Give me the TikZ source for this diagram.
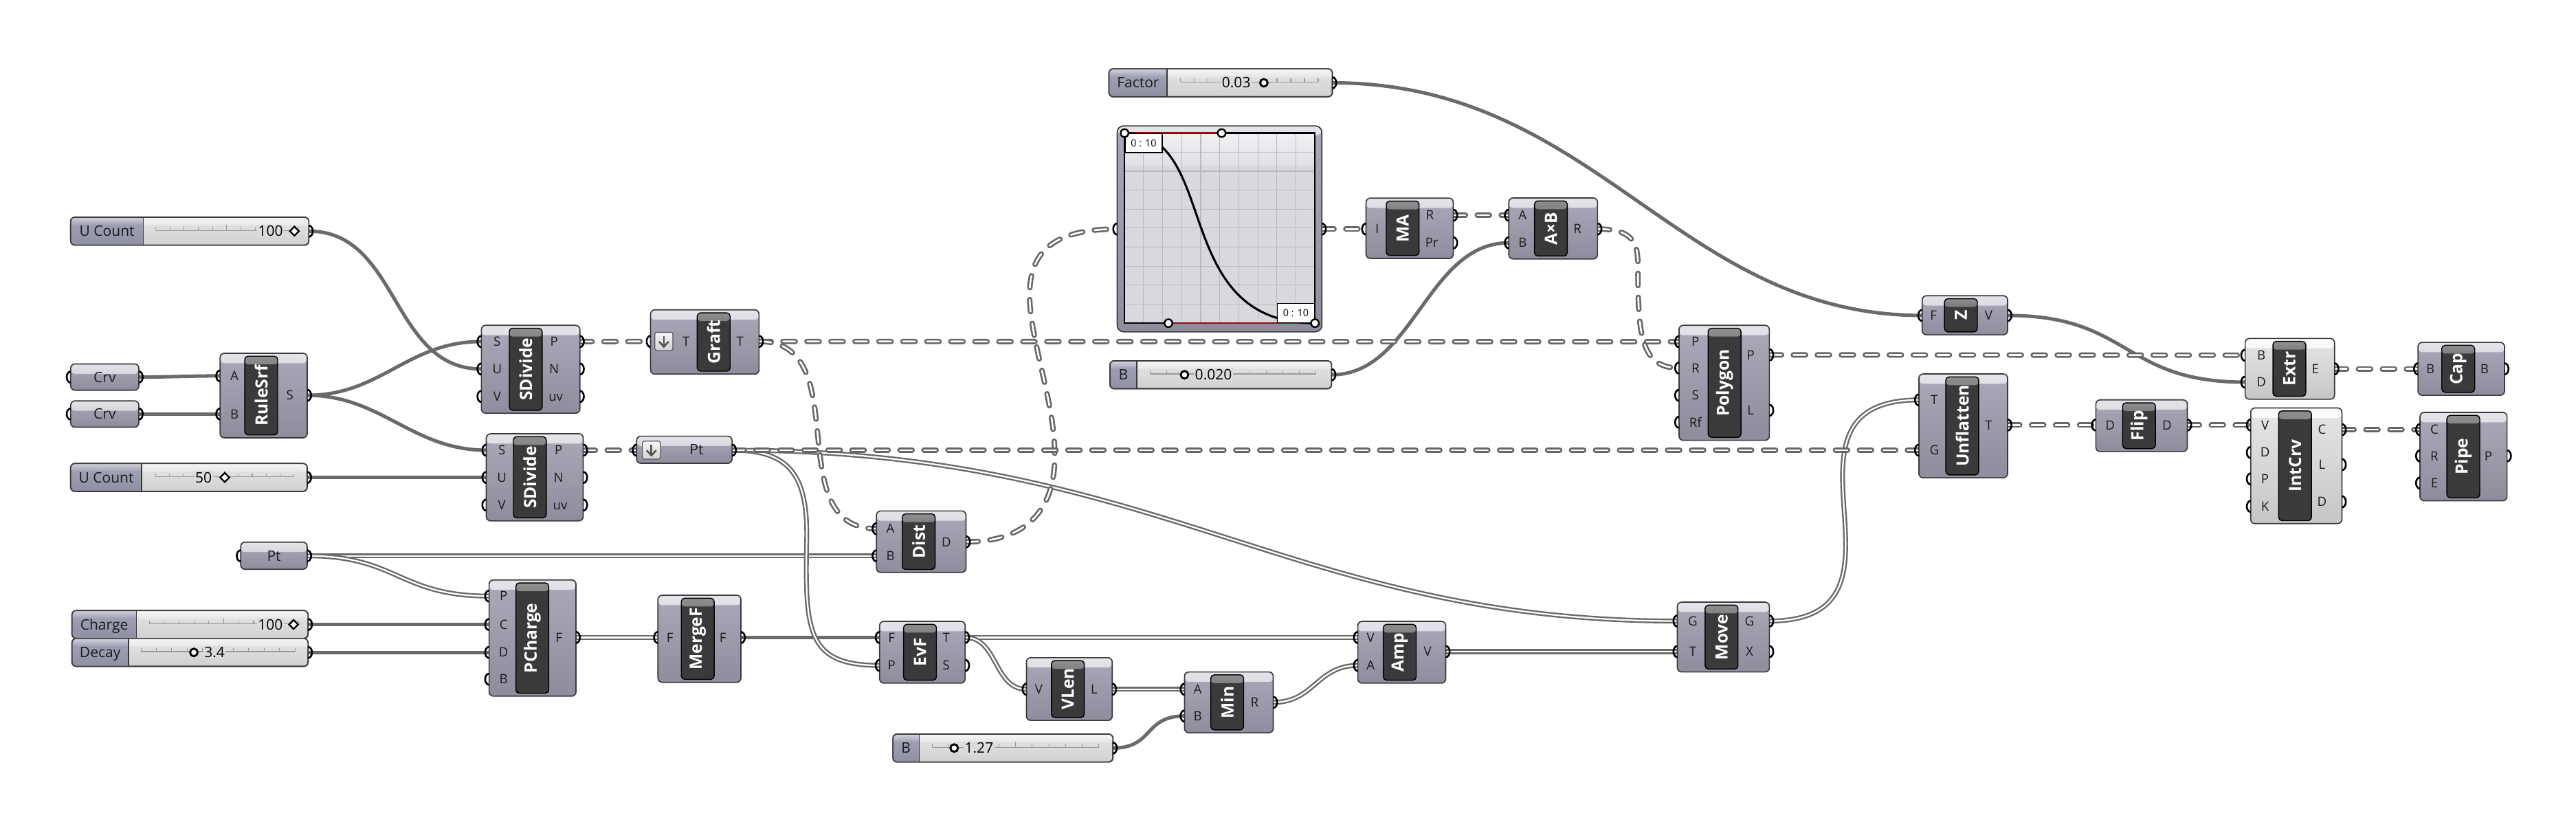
\documentclass[tikz,border=0pt]{standalone}
\usepackage{fontspec}
\setmainfont{Open Sans}
\pgfdeclarelayer{back}
\pgfdeclarelayer{wires}
\pgfsetlayers{back,wires,main}
\definecolor{wcol}{HTML}{6A6A6A}
\definecolor{tcol}{HTML}{666666}
\definecolor{bord}{HTML}{3A3A3A}
\definecolor{bodyA}{HTML}{A9A9BA}
\definecolor{bodyB}{HTML}{8D8D9D}
\definecolor{bandA}{HTML}{E4E4EA}
\definecolor{bandB}{HTML}{BDBDC8}
\definecolor{offA}{HTML}{E6E6E6}
\definecolor{offB}{HTML}{C6C6C6}
\definecolor{offBandA}{HTML}{FBFBFB}
\definecolor{offBandB}{HTML}{EBEBEB}
\definecolor{lbA}{HTML}{8E8E8E}
\definecolor{lbB}{HTML}{3A3A3A}
\definecolor{ptxt}{HTML}{1A1A1A}
\definecolor{sldA}{HTML}{9E9EB3}
\definecolor{sldB}{HTML}{9090A3}
\definecolor{sldTa}{HTML}{D2D2DC}
\definecolor{sldTb}{HTML}{A8A8BC}
\definecolor{valA}{HTML}{E6E6E6}
\definecolor{valB}{HTML}{D0D0D0}
\definecolor{valTa}{HTML}{F6F6F6}
\definecolor{valM}{HTML}{DBDBDB}
\definecolor{tickc}{HTML}{9A9A9A}
\definecolor{icb}{HTML}{555555}
\definecolor{gmP}{HTML}{D8D8DE}
\definecolor{gmT}{HTML}{F1F1F3}
\definecolor{gmgrid}{HTML}{B9B9C1}
\definecolor{dred}{HTML}{8B1010}
\tikzset{
 wire/.style={draw=wcol, line width=2.1pt},
 lwire/.style={draw=wcol, line width=1pt, double=white, double distance=0.95pt},
 twire/.style={draw=tcol, line width=3.3pt, line cap=round, dash pattern=on 7.4pt off 7.2pt,
   postaction={draw=white, line width=1.1pt, line cap=round, dash pattern=on 7.4pt off 7.2pt}},
 comp/.style={draw=bord, line width=0.7pt, rounded corners=2.6pt, inner sep=0pt, outer sep=0pt,
   top color=bodyA, bottom color=bodyB,
   path picture={\shade[top color=bandA, bottom color=bandB] (path picture bounding box.north west) rectangle ([yshift=-6pt]path picture bounding box.north east);}},
 compoff/.style={top color=offA, bottom color=offB,
   path picture={\shade[top color=offBandA, bottom color=offBandB] (path picture bounding box.north west) rectangle ([yshift=-6pt]path picture bounding box.north east);}},
 lblbox/.style={draw=black, line width=0.6pt, rounded corners=2pt, inner sep=0pt, minimum width=20pt, fill=lbB,
   path picture={\shade[top color=lbA, bottom color=lbB] (path picture bounding box.north west) rectangle ([yshift=-5pt]path picture bounding box.north east);}},
 lbltxt/.style={rotate=90, text=white, font=\fontsize{10.3}{11}\selectfont\bfseries, inner sep=0pt},
 plbl/.style={text=ptxt, font=\fontsize{7.8}{8}\selectfont, inner sep=0pt},
 port/.style={draw=black, line width=1.1pt},
 sldbody/.style={draw=bord, line width=0.7pt, rounded corners=2.6pt, inner sep=0pt, top color=valA, bottom color=valB},
 stxt/.style={text=ptxt, font=\fontsize{8.8}{9}\selectfont, inner sep=0pt},
 vtxt/.style={text=black, font=\fontsize{8.8}{9}\selectfont, inner sep=0.6pt, fill=valM},
 tickl/.style={draw=tickc, line width=0.45pt},
 gripc/.style={draw=black, fill=white, circle, line width=1.2pt, minimum size=4.6pt, inner sep=0pt},
 gripd/.style={draw=black, fill=white, rectangle, rotate=45, line width=1pt, minimum size=3.9pt, inner sep=0pt},
 iconbox/.style={draw=icb, line width=0.5pt, rounded corners=1.2pt, minimum size=11pt, inner sep=0pt, top color=white!92!gray, bottom color=gray!35},
 iconarr/.style={draw=icb, line width=1.1pt},
 gmlab/.style={draw=black, fill=white, line width=0.6pt, minimum width=22.6pt, minimum height=11.6pt, inner sep=0pt, font=\fontsize{6}{6}\selectfont},
 gmh/.style={draw=black, fill=white, circle, line width=1pt, minimum size=4.8pt, inner sep=0pt},
}
\newcommand{\gino}[3]{\coordinate (#1) at ({#2},{#3});
  \draw[port] ({#2},{(#3)+3.4}) arc[start angle=90,end angle=270,x radius=2.4,y radius=3.4];}
\newcommand{\gouto}[3]{\coordinate (#1) at ({#2},{#3});
  \draw[port] ({#2},{(#3)+3.4}) arc[start angle=90,end angle=-90,x radius=2.4,y radius=3.4];}
\newcommand{\gin}[5]{\gino{#1}{#2}{#3}\node[plbl,anchor=base] (#1-t) at (#4,{(#3)+2.8}) {#5};}
\newcommand{\gout}[5]{\gouto{#1}{#2}{#3}\node[plbl,anchor=base] (#1-t) at (#4,{(#3)+2.8}) {#5};}
\newcommand{\gcomp}[8][]{%
  \node[comp,#1,minimum width={(#5)-(#3)},minimum height={(#6)-(#4)}] (#2) at ({((#3)+(#5))/2},{((#4)+(#6))/2}) {};
  \node[lblbox,minimum height={(#6)-(#4)-3.6}] (#2-lb) at (#7,{((#4)+(#6))/2}) {};
  \node[lbltxt] (#2-lt) at (#7,{((#4)+(#6))/2}) {#8};}
\newcommand{\gparam}[7]{%
  \node[comp,minimum width={(#4)-(#2)},minimum height={(#5)-(#3)}] (#1) at ({((#2)+(#4))/2},{((#3)+(#5))/2}) {};
  \node[stxt,anchor=base] (#1-l) at (#6,{((#3)+(#5))/2+3.15}) {#7};}
\newcommand{\gslider}[8]{%
  \node[sldbody,minimum width={(#4)-(#2)},minimum height=17pt] (#1) at ({((#2)+(#4))/2},{(#3)+8.5}) {};
  \begin{scope}
    \clip[rounded corners=2.6pt] (#2,#3) rectangle (#4,{(#3)+17});
    \shade[top color=sldTa, bottom color=sldA] (#2,#3) rectangle (#5,{(#3)+5});
    \shade[top color=sldA, bottom color=sldB] (#2,{(#3)+5}) rectangle (#5,{(#3)+17});
    \shade[top color=valTa, bottom color=valA] (#5,#3) rectangle (#4,{(#3)+5});
  \end{scope}
  \draw[draw=bord, line width=0.7pt] (#5,#3) -- (#5,{(#3)+17});
  \draw[draw=bord, line width=0.7pt, rounded corners=2.6pt] (#2,#3) rectangle (#4,{(#3)+17});
  \node[stxt,anchor=base] (#1-l) at ({((#2)+(#5))/2},{(#3)+11.65}) {#6};
  \draw[tickl] (#7,{(#3)+8}) -- (#8,{(#3)+8});
  \foreach \k in {0,...,10}{\draw[tickl] ({(#7)+\k*((#8)-(#7))/10},{(#3)+8}) -- ++(0,-2);}
  \draw[tickl] ({((#7)+(#8))/2},{(#3)+8}) -- ++(0,-3.6);
  \gouto{#1-o}{#4}{(#3)+8.5}}
\newcommand{\dicon}[3]{%
  \node[iconbox] (#1) at ({(#2)+5.5},{(#3)+5.5}) {};
  \draw[iconarr] ({(#2)+5.5},{(#3)+2.3}) -- ({(#2)+5.5},{(#3)+8.7});
  \draw[iconarr] ({(#2)+2.6},{(#3)+5.6}) -- ({(#2)+5.5},{(#3)+8.7}) -- ({(#2)+8.4},{(#3)+5.6});}
\begin{document}
\begin{tikzpicture}[x=1pt,y=-1pt]
\begin{pgfonlayer}{back}
\fill[white] (0,0) rectangle (1568,505.4);
\end{pgfonlayer}
\useasboundingbox (0,0) rectangle (1568,505.4);

% ---------------- sliders ----------------
\gslider{ucA}{43}{132.2}{188}{87.2}{U Count}{94.8}{181.2}
\node[vtxt,anchor=base east] (ucA-v) at (173,143.85) {100};
\node[gripd] (ucA-g) at (179.2,140.7) {};
\gslider{ucB}{43}{282.1}{187}{86.3}{U Count}{94.6}{178.8}
\node[vtxt,anchor=base east] (ucB-v) at (129.7,293.75) {50};
\node[gripd] (ucB-g) at (136.8,290.6) {};
\gslider{charge}{43.8}{371.6}{187.5}{83}{Charge}{90.8}{181.6}
\node[vtxt,anchor=base east] (charge-v) at (172.9,383.25) {100};
\node[gripd] (charge-g) at (178.7,380.1) {};
\gslider{decay}{43.8}{388.6}{187.5}{78.1}{Decay}{85.8}{179.5}
\node[gripc] (decay-g) at (118,397.1) {};
\node[vtxt,anchor=base west] (decay-v) at (123.6,400.25) {3.4};
\gslider{factor}{675}{41.9}{811}{710.5}{Factor}{718.7}{802.4}
\node[vtxt,anchor=base east] (factor-v) at (762,53.55) {0.03};
\node[gripc] (factor-g) at (769.3,50.4) {};
\gslider{bslA}{675.6}{219.6}{810.5}{692}{B}{700}{801}
\node[gripc] (bslA-g) at (721,228.1) {};
\node[vtxt,anchor=base west] (bslA-v) at (726.6,231.25) {0.020};
\gslider{bslB}{543.5}{446.8}{677.4}{559.5}{B}{567.4}{668.9}
\node[gripc] (bslB-g) at (580.8,455.3) {};
\node[vtxt,anchor=base west] (bslB-v) at (586.4,458.45) {1.27};

% ---------------- parameters ----------------
\gparam{crv1}{43}{221.5}{84.5}{237.5}{63.75}{Crv}
\gino{crv1-i}{43}{229.5}\gouto{crv1-o}{84.5}{229.5}
\gparam{crv2}{43}{244}{84.5}{260}{63.75}{Crv}
\gino{crv2-i}{43}{252}\gouto{crv2-o}{84.5}{252}
\gparam{ptL}{146.5}{330}{187}{346.5}{166.75}{Pt}
\gino{ptL-i}{146.5}{338.3}\gouto{ptL-o}{187}{338.3}
\gparam{ptT}{387.5}{265.5}{445.6}{282}{424}{Pt}
\dicon{ptT-ic}{391}{268.5}
\gino{ptT-i}{387.5}{274}\gouto{ptT-o}{445.6}{274}

% ---------------- components ----------------
\gcomp{rule}{134}{215}{187}{266.5}{159}{RuleSrf}
\gin{rule-A}{134}{228.8}{142.7}{A}
\gin{rule-B}{134}{252}{142.7}{B}
\gout{rule-S}{187}{240.6}{176.4}{S}

\gcomp{sdA}{293}{198}{353}{251.5}{320}{SDivide}
\gin{sdA-S}{293}{207.9}{302.6}{S}
\gin{sdA-U}{293}{224.6}{302.6}{U}
\gin{sdA-V}{293}{241.3}{302.6}{V}
\gout{sdA-P}{353}{207.9}{337.3}{P}
\gout{sdA-N}{353}{224.6}{337.3}{N}
\gout{sdA-uv}{353}{241.3}{338.3}{uv}

\gcomp{sdB}{296}{264}{355}{317}{322.5}{SDivide}
\gin{sdB-S}{296}{274}{305.5}{S}
\gin{sdB-U}{296}{290.6}{305.5}{U}
\gin{sdB-V}{296}{307.4}{305.5}{V}
\gout{sdB-P}{355}{274}{340}{P}
\gout{sdB-N}{355}{290.6}{340}{N}
\gout{sdB-uv}{355}{307.4}{341}{uv}

\gcomp{graft}{396}{188.6}{462}{227.7}{434.4}{Graft}
\dicon{graft-ic}{398.6}{202.3}
\gin{graft-Ti}{396}{207.8}{417.6}{T}
\gout{graft-To}{462}{207.8}{450.5}{T}

\gcomp{pch}{297.7}{353}{350.6}{423.7}{324}{PCharge}
\gin{pch-P}{297.7}{362.8}{306.5}{P}
\gin{pch-C}{297.7}{380.1}{306.5}{C}
\gin{pch-D}{297.7}{397.1}{306.5}{D}
\gin{pch-B}{297.7}{413.4}{306.5}{B}
\gout{pch-F}{350.6}{388}{340.2}{F}

\gcomp{merge}{400.5}{362.3}{451}{415.3}{424.7}{MergeF}
\gin{merge-Fi}{400.5}{388}{407.8}{F}
\gout{merge-Fo}{451}{388}{440}{F}

\gcomp{dist}{533.5}{311}{588}{348.4}{559.2}{Dist}
\gin{dist-A}{533.5}{321.8}{542}{A}
\gin{dist-B}{533.5}{338.3}{542}{B}
\gout{dist-D}{588}{329.8}{576}{D}

\gcomp{evf}{535.4}{378.2}{587.5}{415.8}{560}{EvF}
\gin{evf-F}{535.4}{388}{542.7}{F}
\gin{evf-P}{535.4}{405}{542.7}{P}
\gout{evf-T}{587.5}{388}{576}{T}
\gout{evf-S}{587.5}{405}{576}{S}

\gcomp{vlen}{624.8}{400.3}{677}{438.5}{650}{VLen}
\gin{vlen-V}{624.8}{419.5}{632.3}{V}
\gout{vlen-L}{677}{419.5}{666}{L}

\gcomp{min}{721}{409}{775}{446}{747}{Min}
\gin{min-A}{721}{419.5}{729}{A}
\gin{min-B}{721}{435.8}{729}{B}
\gout{min-R}{775}{427.5}{763.6}{R}

\gcomp{amp}{826.5}{378.2}{880}{415.8}{852}{Amp}
\gin{amp-V}{826.5}{388}{834.3}{V}
\gin{amp-A}{826.5}{405}{834.3}{A}
\gout{amp-Vo}{880}{396.6}{869}{V}

\gcomp{move}{1021}{366.5}{1077}{409}{1047.9}{Move}
\gin{move-G}{1021}{378}{1030.4}{G}
\gin{move-T}{1021}{396.6}{1030.4}{T}
\gout{move-Go}{1077}{378}{1064.9}{G}
\gout{move-X}{1077}{396.6}{1064.9}{X}

\gcomp{ma}{831.5}{120.6}{884.6}{157.3}{853.8}{MA}
\gin{ma-I}{831.5}{139.4}{838.3}{I}
\gout{ma-R}{884.6}{131}{870.3}{R}
\gout{ma-Pr}{884.6}{147.8}{871.5}{Pr}

\gcomp{axb}{918.4}{120.5}{972.4}{157.6}{944}{A×B}
\gin{axb-A}{918.4}{131}{926.8}{A}
\gin{axb-B}{918.4}{147.8}{926.8}{B}
\gout{axb-R}{972.4}{139.4}{960.2}{R}

\gcomp{poly}{1022}{198}{1077}{268}{1049.7}{Polygon}
\gin{poly-P}{1022}{208}{1032}{P}
\gin{poly-R}{1022}{224}{1032}{R}
\gin{poly-S}{1022}{240.6}{1032}{S}
\gin{poly-Rf}{1022}{257}{1032}{Rf}
\gout{poly-Po}{1077}{216}{1065.6}{P}
\gout{poly-L}{1077}{249.7}{1065.6}{L}

\gcomp{zc}{1170}{180}{1222}{203.8}{1193.6}{Z}
\gin{zc-F}{1170}{192}{1176.9}{F}
\gout{zc-V}{1222}{192}{1210.5}{V}

\gcomp{unf}{1168}{227.6}{1222}{290.8}{1194.4}{Unflatten}
\gin{unf-T}{1168}{243.4}{1177.4}{T}
\gin{unf-G}{1168}{274}{1177.4}{G}
\gout{unf-To}{1222}{258.7}{1210.5}{T}

\gcomp{flip}{1275.7}{243.4}{1331.4}{274.8}{1302}{Flip}
\gin{flip-D}{1275.7}{258.7}{1284.4}{D}
\gout{flip-Do}{1331.4}{258.7}{1319}{D}

\gcomp[compoff]{extr}{1366.6}{206}{1421}{243}{1393.5}{Extr}
\gin{extr-B}{1366.6}{216.2}{1376.4}{B}
\gin{extr-D}{1366.6}{232.6}{1376.4}{D}
\gout{extr-E}{1421}{224.5}{1409.2}{E}

\gcomp[compoff]{intc}{1370}{248.3}{1425.5}{318.7}{1397}{IntCrv}
\gin{intc-V}{1370}{258.7}{1378.7}{V}
\gin{intc-D}{1370}{275.4}{1378.7}{D}
\gin{intc-P}{1370}{291.5}{1378.7}{P}
\gin{intc-K}{1370}{308.2}{1378.7}{K}
\gout{intc-C}{1425.5}{261.5}{1413.4}{C}
\gout{intc-L}{1425.5}{282.8}{1413.4}{L}
\gout{intc-Do}{1425.5}{305.4}{1413.4}{D}

\gcomp{cap}{1471.8}{208.4}{1524.5}{240.6}{1496.3}{Cap}
\gin{cap-B}{1471.8}{224.5}{1479.4}{B}
\gout{cap-Bo}{1524.5}{224.5}{1512.3}{B}

\gcomp{pipe}{1473}{251}{1526}{304.8}{1499.4}{Pipe}
\gin{pipe-C}{1473}{261.5}{1481.8}{C}
\gin{pipe-R}{1473}{277.5}{1481.8}{R}
\gin{pipe-E}{1473}{294}{1481.8}{E}
\gout{pipe-P}{1526}{277.5}{1514.6}{P}

% ---------------- graph mapper ----------------
\node[comp, rounded corners=4pt, minimum width=124.6pt, minimum height=125.4pt] (gm) at (742.3,139.3) {};
\fill[gmP] (684.5,81) rectangle (800.4,196.7);
\shade[top color=gmT, bottom color=gmP!70!gmT] (684.5,81) rectangle (800.4,101);
\foreach \k in {1,...,9}{
  \draw[gmgrid, line width=0.5pt] ({684.5+\k*11.59},81) -- ++(0,115.7);
  \draw[gmgrid, line width=0.5pt] (684.5,{81+\k*11.57}) -- ++(115.9,0);}
\draw[black, line width=1pt] (684.5,81) rectangle (800.4,196.7);
\draw[dred, line width=1pt] (684.5,81) -- (743.6,81);
\draw[dred, line width=1pt] (711.2,196.7) -- (800.4,196.7);
\draw[black, line width=1.3pt] (684.5,81) .. controls (743.6,81) and (711.2,196.7) .. (800.4,196.7);
\node[gmlab, anchor=north west] (gm-l1) at (684.5,81) {0 : 10};
\node[gmlab, anchor=south east] (gm-l2) at (800.4,196.7) {0 : 10};
\node[gmh] (gm-h1) at (684.5,81) {};
\node[gmh] (gm-h2) at (743.6,81) {};
\node[gmh] (gm-h3) at (711.2,196.7) {};
\node[gmh] (gm-h4) at (800.4,196.7) {};
\gino{gm-i}{680}{139.4}
\gouto{gm-o}{804.6}{139.4}

% ---------------- wires ----------------
\begin{pgfonlayer}{wires}
\draw[wire] (ucA-o) .. controls +(55,0) and +(-55,0) .. (sdA-U);
\draw[wire] (crv1-o) .. controls +(20,0) and +(-20,0) .. (rule-A);
\draw[wire] (crv2-o) -- (rule-B);
\draw[wire] (rule-S) .. controls +(45,0) and +(-45,0) .. (sdA-S);
\draw[wire] (rule-S) .. controls +(45,0) and +(-45,0) .. (sdB-S);
\draw[wire] (ucB-o) -- (sdB-U);
\draw[wire] (charge-o) -- (pch-C);
\draw[wire] (decay-o) -- (pch-D);
\draw[wire] (merge-Fo) -- (evf-F);
\draw[wire] (bslB-o) .. controls +(25,0) and +(-25,0) .. (min-B);
\draw[wire] (bslA-o) .. controls +(50,0) and +(-50,0) .. (axb-B);
\draw[wire] (factor-o) .. controls +(161,0) and +(-149,0) .. (zc-F);
\draw[wire] (zc-V) .. controls +(75,0) and +(-75,0) .. (extr-D);
\draw[lwire] (ptL-o) -- (dist-B);
\draw[lwire] (ptL-o) .. controls +(55,0) and +(-55,0) .. (pch-P);
\draw[lwire] (pch-F) -- (merge-Fi);
\draw[lwire] (evf-T) -- (amp-V);
\draw[lwire] (evf-T) .. controls +(20,0) and +(-20,0) .. (vlen-V);
\draw[lwire] (vlen-L) -- (min-A);
\draw[lwire] (min-R) .. controls +(25,0) and +(-25,0) .. (amp-A);
\draw[lwire] (amp-Vo) -- (move-T);
\draw[lwire] (ptT-o) .. controls +(36,0) and +(1,-40) .. (491,330) .. controls +(-1,55) and +(-44,0) .. (evf-P);
\draw[lwire] (ptT-o) .. controls +(261,0) and +(-236,0) .. (move-G);
\draw[lwire] (move-Go) .. controls +(100,0) and +(-100,0) .. (unf-T);
\draw[twire] (sdA-P) -- (graft-Ti);
\draw[twire] (sdB-P) -- (ptT-i);
\draw[twire] (graft-To) -- (poly-P);
\draw[twire] (graft-To) .. controls +(60,0) and +(-60,0) .. (dist-A);
\draw[twire] (dist-D) .. controls +(37,0) and +(1,35) .. (642,275) .. controls +(-1,-60) and +(-90,0) .. (gm-i);
\draw[twire] (gm-o) -- (ma-I);
\draw[twire] (ma-R) -- (axb-A);
\draw[twire] (axb-R) .. controls +(22,0) and +(0,-14) .. (997,162) .. controls +(0,40) and +(-24,0) .. (poly-R);
\draw[twire] (ptT-o) -- (unf-G);
\draw[twire] (poly-Po) -- (extr-B);
\draw[twire] (extr-E) -- (cap-B);
\draw[twire] (unf-To) -- (flip-D);
\draw[twire] (flip-Do) -- (intc-V);
\draw[twire] (intc-C) -- (pipe-C);
\end{pgfonlayer}
\end{tikzpicture}
\end{document}
